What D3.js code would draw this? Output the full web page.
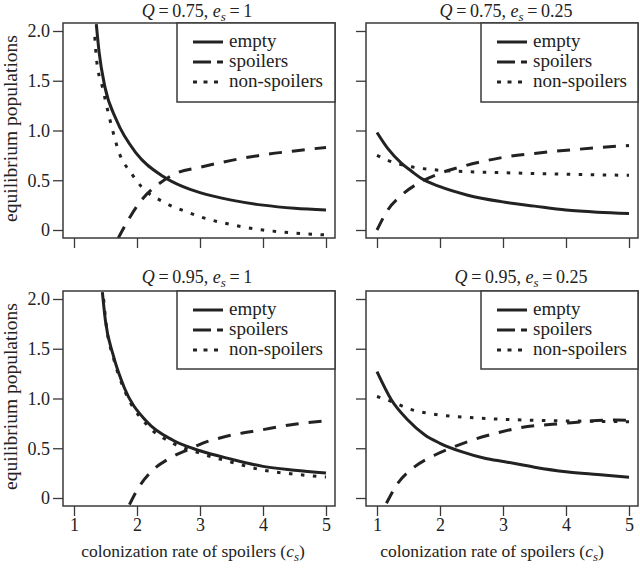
<!DOCTYPE html>
<html>
<head>
<meta charset="utf-8">
<script src="https://cdn.jsdelivr.net/npm/d3@7"></script>
<style>
  body { margin: 0; background: #fff; }
  text { font-family: "Liberation Serif", "Times New Roman", serif; fill: #222; }
</style>
</head>
<body>
<svg id="chart" width="640" height="570"></svg>
<script>
// values (c_s on x, population on y)
const xTicks = [1, 2, 3, 4, 5];
const yTicks = [0, 0.5, 1.0, 1.5, 2.0];
const yTickLabels = ['0', '0.5', '1.0', '1.5', '2.0'];
const seriesNames = ['empty', 'spoilers', 'non-spoilers'];

// Q = 0.75, e_s = 1
const tlEmptyX = [1.354, 1.40, 1.49, 1.67, 1.99, 2.41, 2.73, 3.0, 3.5, 4.0, 4.5, 5.0];
const tlEmptyY = [2.07, 1.78, 1.44, 1.11, 0.77, 0.54, 0.435, 0.375, 0.30, 0.25, 0.218, 0.20];
const tlSpoilX = [1.70, 1.86, 2.07, 2.36, 2.62, 3.0, 3.5, 4.0, 4.5, 5.0];
const tlSpoilY = [-0.084, 0.10, 0.30, 0.47, 0.57, 0.63, 0.70, 0.755, 0.795, 0.83];
const tlNonX = [1.33, 1.36, 1.45, 1.57, 1.72, 1.91, 2.07, 2.41, 2.78, 3.0, 3.53, 4.0, 4.5, 5.0];
const tlNonY = [1.94, 1.70, 1.44, 1.11, 0.77, 0.57, 0.435, 0.285, 0.184, 0.134, 0.05, 0.0, -0.03, -0.05];

// Q = 0.75, e_s = 0.25
const trEmptyX = [1.0, 1.17, 1.39, 1.55, 1.7, 2.0, 2.44, 2.97, 3.5, 4.0, 4.5, 5.0];
const trEmptyY = [0.98, 0.82, 0.67, 0.59, 0.52, 0.435, 0.35, 0.285, 0.24, 0.20, 0.178, 0.165];
const trSpoilX = [1.0, 1.17, 1.39, 1.70, 2.0, 2.34, 2.66, 3.0, 3.5, 4.17, 5.0];
const trSpoilY = [0.0, 0.20, 0.35, 0.485, 0.57, 0.636, 0.686, 0.73, 0.77, 0.81, 0.85];
const trNonX = [1.0, 1.17, 1.54, 2.0, 2.44, 3.0, 4.0, 5.0];
const trNonY = [0.75, 0.70, 0.636, 0.60, 0.586, 0.576, 0.56, 0.55];

// Q = 0.95, e_s = 1
const blEmptyX = [1.45, 1.50, 1.62, 1.80, 2.15, 2.57, 3.0, 3.5, 4.0, 4.5, 5.0];
const blEmptyY = [2.07, 1.776, 1.44, 1.106, 0.771, 0.58, 0.475, 0.39, 0.318, 0.28, 0.251];
const blSpoilX = [1.88, 2.02, 2.23, 2.52, 2.86, 3.0, 3.42, 4.0, 4.53, 5.0];
const blSpoilY = [-0.067, 0.10, 0.268, 0.40, 0.50, 0.54, 0.62, 0.687, 0.744, 0.775];
const blNonX = [1.47, 1.51, 1.63, 1.81, 2.15, 2.57, 3.0, 3.5, 4.0, 4.5, 5.0];
const blNonY = [2.0, 1.75, 1.40, 1.07, 0.74, 0.55, 0.45, 0.36, 0.28, 0.24, 0.21];

// Q = 0.95, e_s = 0.25
const brEmptyX = [1.0, 1.23, 1.49, 1.76, 2.0, 2.34, 2.71, 3.03, 3.5, 4.0, 4.5, 5.0];
const brEmptyY = [1.27, 0.985, 0.784, 0.633, 0.55, 0.466, 0.40, 0.365, 0.31, 0.264, 0.235, 0.208];
const brSpoilX = [1.15, 1.33, 1.60, 1.92, 2.23, 2.55, 2.92, 3.22, 3.96, 4.8, 5.0];
const brSpoilY = [-0.053, 0.148, 0.315, 0.432, 0.516, 0.59, 0.656, 0.70, 0.75, 0.784, 0.78];
const brNonX = [1.0, 1.23, 1.49, 2.0, 2.44, 3.03, 4.0, 5.0];
const brNonY = [1.02, 0.97, 0.90, 0.834, 0.81, 0.79, 0.775, 0.767];

const panelQ = ['0.75', '0.75', '0.95', '0.95'];
const panelEs = ['1', '0.25', '1', '0.25'];

let svg = d3.select('#chart');
let ink = '#222';
let frameCol = '#3a3a3a';
let fontSize = 18;

let styles = {
    'empty': {dash: null, legendDash: null},
    'spoilers': {dash: '13,10', legendDash: '18,6'},
    'non-spoilers': {dash: '3.5,8.5', legendDash: '4,6.5'}
};

let panels = [
    {left: 63, top: 23, titleX: 197, titleY: 17, series: [[tlEmptyX, tlEmptyY], [tlSpoilX, tlSpoilY], [tlNonX, tlNonY]], yLabels: true, xLabels: false},
    {left: 366, top: 23, titleX: 506, titleY: 17, series: [[trEmptyX, trEmptyY], [trSpoilX, trSpoilY], [trNonX, trNonY]], yLabels: false, xLabels: false},
    {left: 63, top: 291, titleX: 197, titleY: 283, series: [[blEmptyX, blEmptyY], [blSpoilX, blSpoilY], [blNonX, blNonY]], yLabels: true, xLabels: true},
    {left: 366, top: 291, titleX: 521, titleY: 283, series: [[brEmptyX, brEmptyY], [brSpoilX, brSpoilY], [brNonX, brNonY]], yLabels: false, xLabels: true}
];

const boxW = 272, boxH = 215;

panels.forEach((p, pi) => {
    let g = svg.append('g').attr('transform', `translate(${p.left}, ${p.top})`);

    let x = d3.scaleLinear().domain([1, 5]).range([11, 263]);
    let y = d3.scaleLinear().domain([0, 2]).range([207, 8]);

    g.append('clipPath').attr('id', 'clip' + pi)
        .append('rect').attr('x', 0).attr('y', 0).attr('width', boxW).attr('height', boxH);

    // series lines
    let line = d3.line()
        .x(d => x(d[0]))
        .y(d => y(d[1]))
        .curve(d3.curveMonotoneX);

    let plot = g.append('g').attr('clip-path', `url(#clip${pi})`);
    p.series.forEach((s, si) => {
        let pts = s[0].map((v, i) => [v, s[1][i]]);
        plot.append('path')
            .datum(pts)
            .attr('d', line)
            .attr('fill', 'none')
            .attr('stroke', ink)
            .attr('stroke-width', 3)
            .attr('stroke-dasharray', styles[seriesNames[si]].dash);
    });

    // frame
    g.append('rect')
        .attr('x', 0).attr('y', 0)
        .attr('width', boxW).attr('height', boxH)
        .attr('fill', 'none')
        .attr('stroke', frameCol)
        .attr('stroke-width', 1.5);

    // axes
    let yAxis = d3.axisLeft(y).tickValues(yTicks).tickSize(10).tickPadding(3)
        .tickFormat((d, i) => p.yLabels ? yTickLabels[i] : '');
    let ya = g.append('g').call(yAxis);
    ya.select('.domain').remove();
    ya.selectAll('line').attr('stroke', frameCol).attr('stroke-width', 1.3);
    ya.selectAll('text').attr('font-size', fontSize).attr('fill', ink)
        .style('font-family', '"Liberation Serif", serif');

    let xAxis = d3.axisBottom(x).tickValues(xTicks).tickSize(10).tickPadding(2)
        .tickFormat(d => p.xLabels ? d : '');
    let xa = g.append('g').attr('transform', `translate(0, ${boxH})`).call(xAxis);
    xa.select('.domain').remove();
    xa.selectAll('line').attr('stroke', frameCol).attr('stroke-width', 1.3);
    xa.selectAll('text').attr('font-size', fontSize).attr('fill', ink)
        .style('font-family', '"Liberation Serif", serif');

    // legend box sitting in the top right corner
    let legLeft = p.left < 200 ? 114 : 115;
    let leg = g.append('g').attr('transform', `translate(${legLeft}, 0)`);
    leg.append('rect')
        .attr('x', 0).attr('y', 0)
        .attr('width', boxW - legLeft).attr('height', p.top < 200 ? 79 : 78)
        .attr('fill', '#fff')
        .attr('stroke', frameCol)
        .attr('stroke-width', 1.5);
    seriesNames.forEach((name, i) => {
        let ry = 19 + i * 20;
        leg.append('line')
            .attr('x1', 16).attr('x2', 46)
            .attr('y1', ry).attr('y2', ry)
            .attr('stroke', ink)
            .attr('stroke-width', 3)
            .attr('stroke-dasharray', styles[name].legendDash);
        leg.append('text')
            .attr('x', 52).attr('y', ry + 5)
            .attr('font-size', 19)
            .text(name);
    });

    // panel title
    let t = svg.append('text')
        .attr('x', p.titleX)
        .attr('y', p.titleY)
        .attr('text-anchor', 'middle')
        .attr('font-size', fontSize);
    t.append('tspan').attr('font-style', 'italic').text('Q');
    t.append('tspan').text('\u2009=\u20090' + panelQ[pi].slice(1) + ', ');
    t.append('tspan').attr('font-style', 'italic').text('e');
    t.append('tspan').attr('font-style', 'italic').attr('font-size', 13).attr('dy', 4).text('s');
    t.append('tspan').attr('dy', -4).text('\u2009=\u2009' + panelEs[pi]);

    // axis titles
    if (p.yLabels) {
        svg.append('text')
            .attr('transform', `translate(17, ${p.top + boxH / 2 - 2}) rotate(-90)`)
            .attr('text-anchor', 'middle')
            .attr('font-size', 19.5)
            .text('equilibrium populations');
    }
    if (p.xLabels) {
        let xl = svg.append('text')
            .attr('x', p.left + (pi == 2 ? 130 : 126))
            .attr('y', 557)
            .attr('text-anchor', 'middle')
            .attr('font-size', 17.5);
        xl.append('tspan').text('colonization rate of spoilers (');
        xl.append('tspan').attr('font-style', 'italic').text('c');
        xl.append('tspan').attr('font-style', 'italic').attr('font-size', 13).attr('dy', 4).text('s');
        xl.append('tspan').attr('dy', -4).text(')');
    }
});
</script>
</body>
</html>
